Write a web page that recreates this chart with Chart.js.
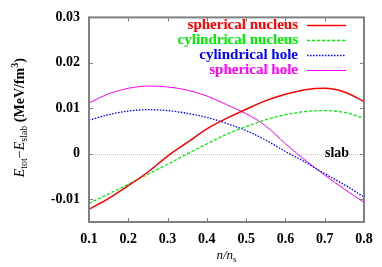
<!DOCTYPE html>
<html>
<head>
<meta charset="utf-8">
<script src="https://cdn.jsdelivr.net/npm/chart.js@4.4.1/dist/chart.umd.min.js"></script>
<style>
    html, body { margin: 0; padding: 0; background: #fff; }
    #box { width: 382px; height: 267px; }
</style>
</head>
<body>
<div id="box"><canvas id="grafico"></canvas></div>
<script>
// densidade n/n_s
const densidade = [0.1, 0.15, 0.2, 0.25, 0.3, 0.35, 0.4, 0.45, 0.5, 0.55, 0.6, 0.65, 0.7, 0.75, 0.8];

// E_tot - E_slab (MeV/fm^3)
const nucleoEsferico = [-0.0122, -0.0098, -0.0070, -0.0040, -0.0005, 0.0025, 0.0055, 0.0078, 0.0098, 0.0117, 0.0131, 0.0141, 0.0144, 0.0136, 0.0115];
const nucleoCilindrico = [-0.0109, -0.0088, -0.0067, -0.0045, -0.0023, 0.0000, 0.0022, 0.0043, 0.0060, 0.0075, 0.0086, 0.0093, 0.0095, 0.0091, 0.0078];
const buracoCilindrico = [0.0074, 0.0086, 0.0094, 0.0097, 0.0095, 0.0089, 0.0080, 0.0067, 0.0051, 0.0030, 0.0005, -0.0018, -0.0044, -0.0068, -0.0095];
const buracoEsferico = [0.0112, 0.0132, 0.0144, 0.0149, 0.0147, 0.0140, 0.0127, 0.0108, 0.0088, 0.0061, 0.0022, -0.0014, -0.0047, -0.0078, -0.0107];

const nomes = ['spherical nucleus', 'cylindrical nucleus', 'cylindrical hole', 'spherical hole'];
const ticksX = [0.1, 0.2, 0.3, 0.4, 0.5, 0.6, 0.7, 0.8];
const rotulosX = ['0.1', '0.2', '0.3', '0.4', '0.5', '0.6', '0.7', '0.8'];
const ticksY = [-0.01, 0, 0.01, 0.02, 0.03];
const rotulosY = ['-0.01', '0', '0.01', '0.02', '0.03'];

const SERIF = '"Liberation Serif", "DejaVu Serif", serif';
const pontos = (ys) => densidade.map((x, i) => ({ x, y: ys[i] }));

// legenda, moldura, ticks internos e títulos das axes
const extras = {
    id: 'extras',
    beforeDatasetsDraw(chart) {
        const { ctx, chartArea: a, scales: { y } } = chart;
        const y0 = Math.round(y.getPixelForValue(0));
        ctx.save();
        ctx.strokeStyle = '#c4c4c4';
        ctx.lineWidth = 1;
        ctx.setLineDash([1, 1]);
        ctx.beginPath();
        ctx.moveTo(a.left, y0 + 0.5);
        ctx.lineTo(a.right, y0 + 0.5);
        ctx.stroke();
        ctx.restore();
    },
    afterDatasetsDraw(chart) {
        const { ctx, chartArea: a, scales: { x, y } } = chart;
        ctx.save();

        // ticks para dentro
        ctx.strokeStyle = '#808080';
        ctx.lineWidth = 1;
        ctx.beginPath();
        ticksX.forEach(v => {
            const px = Math.round(x.getPixelForValue(v)) + 0.5;
            ctx.moveTo(px, a.bottom); ctx.lineTo(px, a.bottom - 4);
            ctx.moveTo(px, a.top); ctx.lineTo(px, a.top + 4);
        });
        ticksY.forEach(v => {
            const py = Math.round(y.getPixelForValue(v)) + 0.5;
            ctx.moveTo(a.left, py); ctx.lineTo(a.left + 4, py);
            ctx.moveTo(a.right, py); ctx.lineTo(a.right - 4, py);
        });
        ctx.stroke();

        // moldura
        ctx.lineWidth = 2;
        ctx.strokeRect(a.left, a.top, a.right - a.left, a.bottom - a.top);

        // legenda
        ctx.font = 'bold 15px ' + SERIF;
        ctx.textAlign = 'right';
        ctx.textBaseline = 'middle';
        chart.data.datasets.forEach((ds, i) => {
            const ly = 25 + i * 15;
            ctx.fillStyle = ds.borderColor;
            ctx.fillText(ds.label, 298, ly);
            ctx.strokeStyle = ds.borderColor;
            ctx.lineWidth = ds.borderWidth;
            ctx.setLineDash(ds.borderDash || []);
            ctx.beginPath();
            ctx.moveTo(307, ly + 0.5);
            ctx.lineTo(346, ly + 0.5);
            ctx.stroke();
        });
        ctx.setLineDash([]);

        // slab
        ctx.fillStyle = '#000';
        ctx.textAlign = 'left';
        ctx.font = 'bold 14px ' + SERIF;
        ctx.fillText('slab', 325, y.getPixelForValue(0));

        // título x: n/n_s
        const cx = (a.left + a.right) / 2;
        ctx.font = 'italic 13px ' + SERIF;
        ctx.textBaseline = 'alphabetic';
        let w1 = ctx.measureText('n/n').width;
        ctx.font = '9px ' + SERIF;
        let w2 = ctx.measureText('s').width;
        let sx = cx - (w1 + w2) / 2;
        ctx.font = 'italic 13px ' + SERIF;
        ctx.fillText('n/n', sx, 259);
        ctx.font = '9px ' + SERIF;
        ctx.fillText('s', sx + w1, 262);

        // título y
        const partes = [
            { t: 'E', f: 'italic 14px ', d: 0 },
            { t: 'tot', f: '10px ', d: 3 },
            { t: '\u2212', f: '14px ', d: 0 },
            { t: 'E', f: 'italic 14px ', d: 0 },
            { t: 'slab', f: '10px ', d: 3 },
            { t: ' (MeV/fm', f: 'bold 14px ', d: 0 },
            { t: '3', f: 'bold 10px ', d: -6 },
            { t: ')', f: 'bold 14px ', d: 0 }
        ];
        let total = 0;
        partes.forEach(p => { ctx.font = p.f + SERIF; p.w = ctx.measureText(p.t).width; total += p.w; });
        ctx.translate(19, (a.top + a.bottom) / 2 - 2);
        ctx.rotate(-Math.PI / 2);
        let px = -total / 2;
        partes.forEach(p => {
            ctx.font = p.f + SERIF;
            ctx.fillText(p.t, px, 5 + p.d);
            px += p.w;
        });
        ctx.restore();
    }
};

new Chart(document.getElementById('grafico'), {
    type: 'line',
    data: {
        datasets: [
            { label: nomes[0], data: pontos(nucleoEsferico), borderColor: '#ff0000', borderWidth: 1.5 },
            { label: nomes[1], data: pontos(nucleoCilindrico), borderColor: '#00ee00', borderWidth: 1.3, borderDash: [3, 2] },
            { label: nomes[2], data: pontos(buracoCilindrico), borderColor: '#0000ff', borderWidth: 1.3, borderDash: [1.5, 1.5] },
            { label: nomes[3], data: pontos(buracoEsferico), borderColor: '#ff00ff', borderWidth: 1 }
        ]
    },
    options: {
        responsive: true,
        maintainAspectRatio: false,
        animation: false,
        layout: { padding: { top: 15, right: 18, left: 0, bottom: 0 } },
        elements: {
            point: { radius: 0 },
            line: { tension: 0.4, cubicInterpolationMode: 'monotone', fill: false }
        },
        plugins: { legend: { display: false }, tooltip: { enabled: false } },
        scales: {
            x: {
                type: 'linear',
                min: 0.1,
                max: 0.8,
                afterFit: (s) => { s.height = 45; },
                afterBuildTicks: (s) => { s.ticks = ticksX.map(v => ({ value: v })); },
                grid: { display: false, drawTicks: false },
                border: { display: false },
                ticks: {
                    padding: 9,
                    color: '#000',
                    font: { family: SERIF, size: 14, weight: 'bold' },
                    callback: (v) => rotulosX[ticksX.findIndex(t => Math.abs(t - v) < 1e-9)]
                }
            },
            y: {
                min: -0.015,
                max: 0.03,
                afterFit: (s) => { s.width = 89; },
                afterBuildTicks: (s) => { s.ticks = ticksY.map(v => ({ value: v })); },
                grid: { display: false, drawTicks: false },
                border: { display: false },
                ticks: {
                    padding: 9,
                    color: '#000',
                    font: { family: SERIF, size: 14, weight: 'bold' },
                    callback: (v) => rotulosY[ticksY.findIndex(t => Math.abs(t - v) < 1e-9)]
                }
            }
        }
    },
    plugins: [extras]
});
</script>
</body>
</html>
